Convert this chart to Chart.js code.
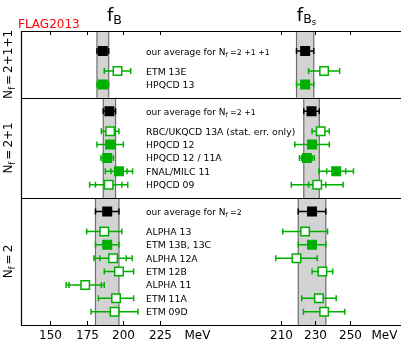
<!DOCTYPE html>
<html>
<head>
<meta charset="utf-8">
<script src="https://cdn.jsdelivr.net/npm/chart.js@4.4.0/dist/chart.umd.min.js"></script>
<style>
  html, body { margin: 0; background: #fff; }
  canvas { display: block; }
</style>
</head>
<body>
<canvas id="flag" width="401" height="340"></canvas>
<script>
// FLAG 2013 summary: f_B and f_Bs in MeV, grouped by number of flavours
const sectionNf = ['2+1+1', '2+1', '2'];
const sectionSpan = [[22, 17], [17, 9.5], [9.5, 0]];   // row range of each block
const averageRow = [0, 3, 9];

const refNames = [
  'our average for', 'ETM 13E', 'HPQCD 13',
  'our average for', 'RBC/UKQCD 13A (stat. err. only)', 'HPQCD 12', 'HPQCD 12 / 11A', 'FNAL/MILC 11', 'HPQCD 09',
  'our average for', 'ALPHA 13', 'ETM 13B, 13C', 'ALPHA 12A', 'ETM 12B', 'ALPHA 11', 'ETM 11A', 'ETM 09D'
];
const refSection = [0, 0, 0, 1, 1, 1, 1, 1, 1, 2, 2, 2, 2, 2, 2, 2, 2];
const rowPos = [20.5, 19, 18, 16, 14.5, 13.5, 12.5, 11.5, 10.5, 8.5, 7, 6, 5, 4, 3, 2, 1];
const filled = [true, false, true, true, false, true, true, true, false, true, false, true, false, false, false, false, false];

const fB      = [186, 196, 186, 190.5, 191, 191, 189, 197, 190, 189, 187, 189, 193, 197, 174, 195, 194];
const fBErr   = [4, 9, 4, 4.2, 6, 9, 4.3, 9.3, 13, 8, 12, 8, 13, 10, 13, 12, 16];
const fBStat  = [null, null, null, null, null, null, null, 5.5, 9, null, null, null, 9, null, 11, null, null];

const fBs     = [224, 235, 224, 227.7, 233, 228, 225, 242, 231, 228, 224, 228, 219, 234, null, 232, 235];
const fBsErr  = [5, 9, 5, 4.5, 5, 10, 4.3, 10, 15, 8, 13, 8, 12, 6, null, 10, 12];
const fBsStat = [null, null, null, null, null, null, 3, 5.5, 5, null, null, null, null, null, null, null, null];

const ticksB = [150, 175, 200, 225];
const ticksBs = [210, 230, 250];

const GREEN = '#00b000';
const FONT = '"DejaVu Sans", sans-serif';

const isAverage = i => averageRow.includes(i);
const markColor = i => (isAverage(i) ? '#000' : GREEN);

const pointsFor = (vals) => vals
  .map((v, i) => ({ x: v, y: rowPos[i], i }))
  .filter(p => p.x !== null);

// draws a run of text pieces of mixed size (for N_f style labels)
function richText(ctx, pieces, x, y, align) {
  let total = 0;
  pieces.forEach(p => {
    ctx.font = p.size + 'px ' + FONT;
    p.w = ctx.measureText(p.t).width + (p.dx || 0);
    total += p.w;
  });
  let cx = align === 'center' ? x - total / 2 : x;
  ctx.textAlign = 'left';
  ctx.textBaseline = 'alphabetic';
  pieces.forEach(p => {
    ctx.font = p.size + 'px ' + FONT;
    ctx.fillText(p.t, cx + (p.dx || 0), y + (p.dy || 0));
    cx += p.w;
  });
}

function errorBar(ctx, scale, y, v, err, stat, color) {
  const x0 = scale.getPixelForValue(v - err);
  const x1 = scale.getPixelForValue(v + err);
  ctx.strokeStyle = color;
  ctx.lineWidth = 1.5;
  ctx.beginPath();
  ctx.moveTo(x0, y); ctx.lineTo(x1, y);
  const caps = [x0, x1];
  if (stat) caps.push(scale.getPixelForValue(v - stat), scale.getPixelForValue(v + stat));
  caps.forEach(cx => { ctx.moveTo(cx, y - 3); ctx.lineTo(cx, y + 3); });
  ctx.stroke();
}

const flagLayout = {
  id: 'flagLayout',
  beforeDatasetsDraw(chart) {
    const { ctx, scales } = chart;
    ctx.save();
    // grey bands of the averages
    sectionSpan.forEach((span, s) => {
      const yT = scales.y.getPixelForValue(span[0]);
      const yB = scales.y.getPixelForValue(span[1]);
      const r = averageRow[s];
      [[scales.xB, fB[r], fBErr[r]], [scales.xBs, fBs[r], fBsErr[r]]].forEach(([sc, v, e]) => {
        const x0 = sc.getPixelForValue(v - e), x1 = sc.getPixelForValue(v + e);
        ctx.fillStyle = '#d3d3d3';
        ctx.fillRect(x0, yT, x1 - x0, yB - yT);
        ctx.strokeStyle = '#6f6f6f';
        ctx.lineWidth = 1.2;
        ctx.beginPath();
        ctx.moveTo(x0, yT); ctx.lineTo(x0, yB);
        ctx.moveTo(x1, yT); ctx.lineTo(x1, yB);
        ctx.stroke();
      });
    });
    // error bars
    refNames.forEach((n, i) => {
      const y = scales.y.getPixelForValue(rowPos[i]);
      errorBar(ctx, scales.xB, y, fB[i], fBErr[i], fBStat[i], markColor(i));
      if (fBs[i] !== null) errorBar(ctx, scales.xBs, y, fBs[i], fBsErr[i], fBsStat[i], markColor(i));
    });
    ctx.restore();
  },
  afterDraw(chart) {
    const { ctx, chartArea: a, scales } = chart;
    ctx.save();
    ctx.fillStyle = '#000';
    ctx.strokeStyle = '#000';
    ctx.lineWidth = 1.2;

    // frame and block dividers
    ctx.beginPath();
    ctx.moveTo(a.left + 0.5, a.top); ctx.lineTo(a.left + 0.5, a.bottom);
    [22, 17, 9.5, 0].forEach(r => {
      const y = Math.round(scales.y.getPixelForValue(r)) + 0.5;
      ctx.moveTo(a.left, y); ctx.lineTo(a.right, y);
    });
    ctx.stroke();

    // ticks top and bottom, labels below
    ctx.lineWidth = 1;
    const tickRow = (sc, vals) => vals.forEach(v => {
      const x = Math.round(sc.getPixelForValue(v)) + 0.5;
      ctx.beginPath();
      ctx.moveTo(x, a.top); ctx.lineTo(x, a.top + 4);
      ctx.moveTo(x, a.bottom); ctx.lineTo(x, a.bottom - 4);
      ctx.stroke();
      ctx.font = '12px ' + FONT;
      ctx.textAlign = 'center';
      ctx.textBaseline = 'alphabetic';
      ctx.fillText(String(v), x, a.bottom + 14);
    });
    tickRow(scales.xB, ticksB);
    tickRow(scales.xBs, ticksBs);
    ctx.font = '12px ' + FONT;
    ctx.textAlign = 'center';
    ctx.fillText('MeV', scales.xB.getPixelForValue(250.5), a.bottom + 14);
    ctx.fillText('MeV', scales.xBs.getPixelForValue(270), a.bottom + 14);

    // reference names
    refNames.forEach((n, i) => {
      const y = scales.y.getPixelForValue(rowPos[i]) + 3.5;
      const x = scales.xB.getPixelForValue(215.5);
      if (isAverage(i)) {
        richText(ctx, [
          { t: n + ' ', size: 9 },
          { t: 'N', size: 9 },
          { t: 'f', size: 6.3, dy: 2 },
          { t: ' =' + sectionNf[refSection[i]].replace(/\+/g, ' +'), size: 7.8 }
        ], x, y, 'left');
      } else {
        ctx.font = '9.3px ' + FONT;
        ctx.textAlign = 'left';
        ctx.fillText(n, x, y);
      }
    });

    // block names along the left edge
    sectionSpan.forEach((span, s) => {
      const yc = (scales.y.getPixelForValue(span[0]) + scales.y.getPixelForValue(span[1])) / 2;
      ctx.save();
      ctx.translate(12, yc);
      ctx.rotate(-Math.PI / 2);
      richText(ctx, [
        { t: 'N', size: 12 },
        { t: 'f', size: 8.5, dy: 2.8 },
        { t: '=', size: 12, dx: 2 },
        { t: sectionNf[s], size: 12, dx: 2 }
      ], 0, 0, 'center');
      ctx.restore();
    });

    // panel titles
    const xt1 = scales.xB.getPixelForValue(188.8);
    richText(ctx, [{ t: 'f', size: 18 }, { t: 'B', size: 12.5, dy: 3 }], xt1, 21, 'left');
    const xt2 = scales.xBs.getPixelForValue(219.2);
    richText(ctx, [{ t: 'f', size: 18 }, { t: 'B', size: 12.5, dy: 1.5 }, { t: 's', size: 8.5, dy: 3.5 }], xt2, 21, 'left');

    ctx.fillStyle = '#ff0000';
    ctx.font = '12px ' + FONT;
    ctx.textAlign = 'left';
    ctx.fillText('FLAG2013', 18, 28);
    ctx.restore();
  }
};

const pointStyleFor = (vals) => ({
  data: pointsFor(vals),
  pointStyle: 'rect',
  pointRadius: 6,
  pointBorderWidth: 1.5,
  pointBackgroundColor: c => (filled[c.raw.i] ? markColor(c.raw.i) : '#fff'),
  pointBorderColor: c => markColor(c.raw.i),
  showLine: false
});

new Chart(document.getElementById('flag'), {
  type: 'scatter',
  data: {
    datasets: [
      { label: 'f_B', xAxisID: 'xB', yAxisID: 'y', ...pointStyleFor(fB) },
      { label: 'f_Bs', xAxisID: 'xBs', yAxisID: 'y', ...pointStyleFor(fBs) }
    ]
  },
  options: {
    responsive: false,
    animation: false,
    events: [],
    layout: { autoPadding: false, padding: { left: 21, top: 31, right: 0, bottom: 15 } },
    plugins: { legend: { display: false }, tooltip: { enabled: false } },
    scales: {
      xB: { type: 'linear', display: false, min: 130.23, max: 389.26 },
      xBs: { type: 'linear', display: false, min: 59.28, max: 279.57 },
      y: { type: 'linear', display: false, min: 0, max: 22 }
    }
  },
  plugins: [flagLayout]
});
</script>
</body>
</html>
